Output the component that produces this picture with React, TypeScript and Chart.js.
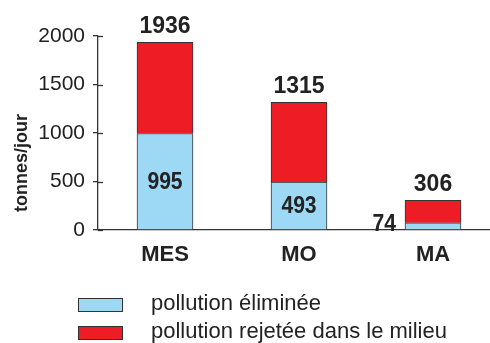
import React, { useEffect, useRef } from "react";
import { Chart, registerables } from "chart.js";

Chart.register(...registerables);

const categories = ["MES", "MO", "MA"];
const eliminated = [995, 493, 74];
const rejected = [941, 822, 232];
const totals = [1936, 1315, 306];
const yTicks = [0, 500, 1000, 1500, 2000];
const seriesLabels = ["pollution éliminée", "pollution rejetée dans le milieu"];
const yTitle = "tonnes/jour";

const BLUE = "#9DD9F5";
const RED = "#EE1C25";
const DARK = "#333333";
const TEXT = "#222222";
const SANS = "'Liberation Sans', Arial, sans-serif";

function narrowText(ctx: any, text: string, x: number, y: number, align: string) {
  ctx.save();
  ctx.translate(x, y);
  ctx.scale(0.88, 1);
  ctx.textAlign = align;
  ctx.fillText(text, 0, 0);
  ctx.restore();
}

const extrasPlugin = {
  id: "extras",
  afterDraw(chart: any) {
    const ctx = chart.ctx;
    const yScale = chart.scales.y;
    const xScale = chart.scales.x;
    ctx.save();
    // inner tick marks
    ctx.strokeStyle = DARK;
    ctx.lineWidth = 1.3;
    yScale.ticks.forEach((t: any) => {
      const y = Math.round(yScale.getPixelForValue(t.value)) + 0.5;
      ctx.beginPath();
      ctx.moveTo(xScale.left, y);
      ctx.lineTo(xScale.left + 5, y);
      ctx.stroke();
    });

    // y title
    ctx.save();
    ctx.translate(22, 163);
    ctx.rotate(-Math.PI / 2);
    ctx.fillStyle = TEXT;
    ctx.font = `bold 18px ${SANS}`;
    ctx.textAlign = "center";
    ctx.textBaseline = "middle";
    ctx.fillText(yTitle, 0, 0);
    ctx.restore();

    // value labels
    const metaBottom = chart.getDatasetMeta(0);
    const metaTop = chart.getDatasetMeta(1);
    ctx.fillStyle = TEXT;
    categories.forEach((_, i) => {
      const topBar = metaTop.data[i];
      const botBar = metaBottom.data[i];
      ctx.font = `bold 23px ${SANS}`;
      ctx.textAlign = "center";
      ctx.textBaseline = "alphabetic";
      ctx.fillText(String(totals[i]), topBar.x, topBar.y - 9);
      ctx.font = `bold 24px ${SANS}`;
      const segH = botBar.base - botBar.y;
      if (segH > 30) {
        ctx.textBaseline = "middle";
        narrowText(ctx, String(eliminated[i]), botBar.x, (botBar.y + botBar.base) / 2 + 1, "center");
      } else {
        ctx.textBaseline = "alphabetic";
        narrowText(ctx, String(eliminated[i]), botBar.x - botBar.width / 2 - 9, botBar.base + 2, "right");
      }
    });

    // legend
    const colors = [BLUE, RED];
    const rows = [305, 333];
    chart.data.datasets.forEach((ds: any, i: number) => {
      const cy = rows[i];
      ctx.fillStyle = colors[i];
      ctx.fillRect(78, cy - 6.5, 44, 13);
      ctx.strokeStyle = DARK;
      ctx.lineWidth = 1;
      ctx.strokeRect(78.5, cy - 6.5, 44, 13);
      ctx.fillStyle = TEXT;
      ctx.font = `22px ${SANS}`;
      ctx.textAlign = "left";
      ctx.textBaseline = "middle";
      ctx.fillText(ds.label, 151, cy - 1);
    });
    ctx.restore();
  },
};

export default function App() {
  const ref = useRef<HTMLCanvasElement | null>(null);
  useEffect(() => {
    if (!ref.current) return;
    const chart = new Chart(ref.current, {
      type: "bar",
      data: {
        labels: categories,
        datasets: [
          {
            label: seriesLabels[0],
            data: eliminated,
            backgroundColor: BLUE,
            borderColor: DARK,
            borderWidth: 1,
            barThickness: 56,
          },
          {
            label: seriesLabels[1],
            data: rejected,
            backgroundColor: RED,
            borderColor: DARK,
            borderWidth: 1,
            barThickness: 56,
          },
        ],
      },
      options: {
        responsive: false,
        animation: false,
        layout: { padding: { top: 36, left: 0, right: 10, bottom: 0 } },
        plugins: {
          legend: { display: false },
          tooltip: { enabled: false },
          title: { display: false },
        },
        scales: {
          x: {
            stacked: true,
            grid: { display: false, drawTicks: false },
            border: { display: true, color: DARK, width: 1.3 },
            ticks: {
              color: TEXT,
              padding: 12,
              font: { family: SANS, size: 22, weight: "bold" },
            },
            afterFit: (s: any) => {
              s.height = 113;
            },
          },
          y: {
            stacked: true,
            min: 0,
            max: 2000,
            grid: {
              drawOnChartArea: false,
              drawTicks: true,
              tickLength: 5,
              color: DARK,
              lineWidth: 1.3,
            },
            border: { display: true, color: DARK, width: 1.3 },
            ticks: {
              color: TEXT,
              padding: 8,
              font: { family: SANS, size: 21 },
              callback: (v: any) => String(v),
            },
            afterBuildTicks: (s: any) => {
              s.ticks = yTicks.map((v) => ({ value: v }));
            },
            afterFit: (s: any) => {
              s.width = 98;
            },
          },
        },
      },
      plugins: [extrasPlugin],
    });
    return () => chart.destroy();
  }, []);
  return (
    <div
      style={{
        position: "absolute",
        left: 0,
        top: 0,
        width: 490,
        height: 343,
        overflow: "hidden",
        background: "#fff",
      }}
    >
      <canvas ref={ref} width={510} height={343} style={{ display: "block" }} />
    </div>
  );
}
